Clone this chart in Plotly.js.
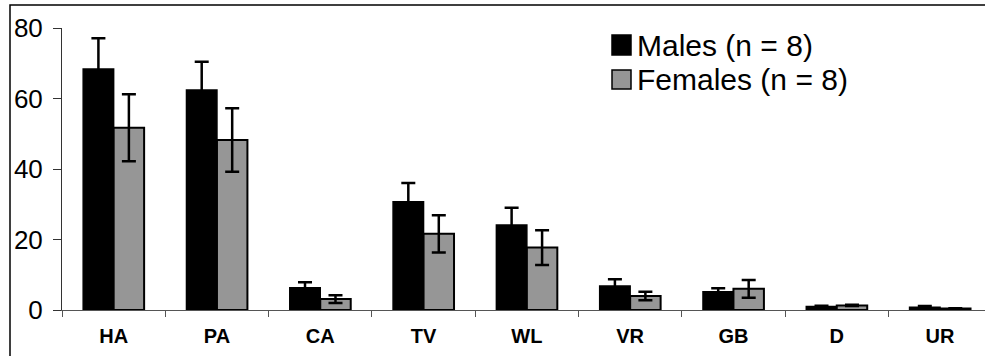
<!DOCTYPE html>
<html>
<head>
<meta charset="utf-8">
<script src="https://cdn.plot.ly/plotly-3.0.1.min.js"></script>
<style>html,body{margin:0;padding:0;background:#fff;}#chart{width:985px;height:356px;}</style>
</head>
<body>
<div id="chart"></div>
<script>
const categories = ["HA", "PA", "CA", "TV", "WL", "VR", "GB", "D", "UR"];
const maleValues = [68.4, 62.4, 6.3, 30.7, 24.1, 6.8, 5.2, 1.0, 0.8];
const maleErrors = [8.7, 8.0, 1.6, 5.3, 4.9, 1.9, 1.0, 0.2, 0.3];
const femaleValues = [51.7, 48.2, 3.1, 21.6, 17.7, 4.0, 6.0, 1.3, 0.4];
const femaleErrors = [9.5, 9.0, 1.1, 5.3, 4.9, 1.2, 2.5, 0.2, 0.1];
const seriesNames = ["Males (n = 8)", "Females (n = 8)"];
const yTicks = [0, 20, 40, 60, 80];

const FONT = "Arial, 'Liberation Sans', sans-serif";
const W = 985, H = 356;
const M = {l: 62, r: 0, t: 28, b: 46};
const plotW = W - M.l - M.r, plotH = H - M.t - M.b;
const catPx = 103.3;
const px = x => (x - M.l) / plotW;
const py = y => (H - M.b - y) / plotH;

const traces = [
  {
    type: "bar", name: seriesNames[0], x: categories, y: maleValues,
    marker: {color: "#000000", line: {color: "#000000", width: 1.5}},
    error_y: {type: "data", array: maleErrors, visible: true, color: "#000000", thickness: 2.5, width: 7}
  },
  {
    type: "bar", name: seriesNames[1], x: categories, y: femaleValues,
    marker: {color: "#969696", line: {color: "#000000", width: 2}},
    error_y: {type: "data", array: femaleErrors, visible: true, color: "#000000", thickness: 2.5, width: 7}
  }
];

const legendItems = [
  {name: seriesNames[0], fill: "#000000", y0: 35, y1: 55, cy: 45},
  {name: seriesNames[1], fill: "#969696", y0: 70, y1: 89, cy: 79.5}
];

const shapes = [
  {type: "rect", xref: "paper", yref: "paper", x0: px(10), x1: px(1000), y0: py(5), y1: py(400),
   line: {color: "#000000", width: 1.5}, fillcolor: "rgba(0,0,0,0)", layer: "above"}
];
const annotations = [];
legendItems.forEach(it => {
  shapes.push({type: "rect", xref: "paper", yref: "paper", x0: px(612), x1: px(631), y0: py(it.y1), y1: py(it.y0),
    fillcolor: it.fill, line: {color: "#000000", width: 1.5}});
  annotations.push({xref: "paper", yref: "paper", x: px(635), y: py(it.cy), xanchor: "left", yanchor: "middle",
    text: it.name, showarrow: false, font: {family: FONT, size: 30, color: "#000000"}});
});

const layout = {
  width: W, height: H,
  margin: M,
  paper_bgcolor: "#ffffff", plot_bgcolor: "#ffffff",
  showlegend: false,
  barmode: "group", bargap: 0.41, bargroupgap: 0,
  font: {family: FONT, color: "#000000"},
  xaxis: {
    type: "category", range: [-0.5, -0.5 + plotW / catPx],
    showline: true, linecolor: "#555555", linewidth: 1,
    ticks: "outside", tickson: "boundaries", ticklen: 6, tickcolor: "#555555", tickwidth: 1,
    tickfont: {family: FONT, size: 20, color: "#000000", weight: "bold"},
    ticklabelstandoff: 8,
    showgrid: false, zeroline: false, fixedrange: true
  },
  yaxis: {
    range: [0, 80], tickvals: yTicks, ticktext: yTicks.map(String),
    showline: true, linecolor: "#333333", linewidth: 1,
    ticks: "outside", ticklen: 8, tickcolor: "#333333", tickwidth: 1,
    tickfont: {family: FONT, size: 26, color: "#000000"},
    ticklabelstandoff: 5,
    showgrid: false, zeroline: false, fixedrange: true
  },
  shapes: shapes,
  annotations: annotations
};

Plotly.newPlot("chart", traces, layout, {displayModeBar: false, staticPlot: true});
</script>
</body>
</html>
